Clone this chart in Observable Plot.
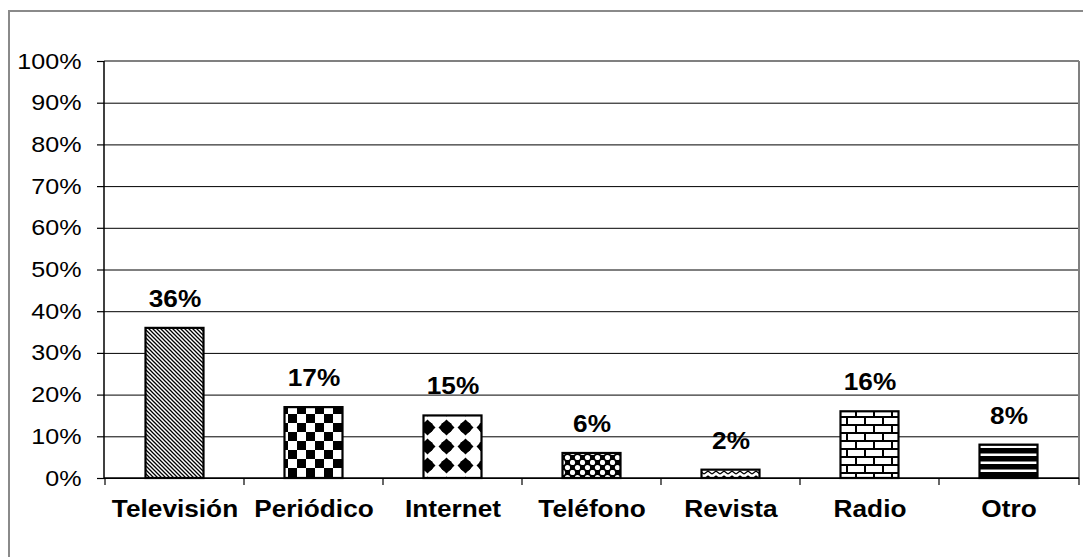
<!DOCTYPE html>
<html><head><meta charset="utf-8">
<script src="https://cdn.jsdelivr.net/npm/d3@7"></script>
<script src="https://cdn.jsdelivr.net/npm/@observablehq/plot@0.6"></script>
<style>
body{margin:0;background:#fff;}
#wrap{position:relative;width:1083px;height:557px;overflow:hidden;background:#fff;}
#border{position:absolute;left:8px;top:10px;width:1200px;height:800px;border-left:2px solid #8a8a8a;border-top:2px solid #8a8a8a;}
#chart{position:absolute;left:0;top:0;}
</style></head><body>
<div id="wrap"><div id="border"></div><div id="chart"></div></div>
<script>
const categories = ["Televisión","Periódico","Internet","Teléfono","Revista","Radio","Otro"];
const values = [0.36, 0.17, 0.15, 0.06, 0.02, 0.16, 0.08];
const valueLabels = ["36%","17%","15%","6%","2%","16%","8%"];
const yTicks = [0, 0.1, 0.2, 0.3, 0.4, 0.5, 0.6, 0.7, 0.8, 0.9, 1];
const yTickLabels = ["0%","10%","20%","30%","40%","50%","60%","70%","80%","90%","100%"];
const patterns = ["diag","checker","diamond","circles","zigzag","brick","stripes"];

const data = categories.map((c, i) => ({category: c, value: values[i], label: valueLabels[i], pattern: `url(#pat-${patterns[i]})`}));

const STRETCH = 1.14;
const plot = Plot.plot({
  width: 1083, height: 557,
  marginLeft: 104, marginRight: 4, marginTop: 61, marginBottom: 79,
  style: {fontFamily: "'Liberation Sans', Arial, sans-serif", background: "transparent", color: "#000"},
  x: {domain: categories, padding: 0, label: null},
  y: {domain: [0, 1], label: null},
  color: {type: "identity"},
  marks: [
    Plot.gridY(yTicks, {stroke: "#000", strokeOpacity: 1, strokeWidth: 1}),
    Plot.barY(data, {x: "category", y: "value", fill: "pattern", stroke: "#000", strokeWidth: 2.2, insetLeft: 40.5, insetRight: 40.5}),
    Plot.text(data, {x: "category", y: "value", text: "label", dy: -29, fontWeight: "bold", fontSize: 23, fill: "#000"}),
    Plot.axisY(yTicks, {tickFormat: d => yTickLabels[yTicks.indexOf(d)], tickSize: 7, tickPadding: 16, fontSize: 22, stroke: "#000", strokeWidth: 1.2}),
    Plot.axisX({tickSize: 0, tickPadding: 22, fontSize: 23, fontWeight: "bold"})
  ]
});
document.getElementById("chart").appendChild(plot);

const svg = d3.select(plot);
const defs = svg.insert("defs", ":first-child");
function pat(id, w, h) {
  return defs.append("pattern").attr("id", "pat-" + id).attr("width", w).attr("height", h).attr("patternUnits", "userSpaceOnUse");
}
// diagonal lines
{ const p = pat("diag", 4, 4); p.append("rect").attr("width", 4).attr("height", 4).attr("fill", "#fff");
  p.append("path").attr("d", "M-1,-1L5,5M-1,3L1,5M3,-1L5,1").attr("stroke", "#000").attr("stroke-width", 1.3); }
// checkerboard
{ const p = pat("checker", 18, 18); p.append("rect").attr("width", 18).attr("height", 18).attr("fill", "#fff");
  p.append("rect").attr("width", 9).attr("height", 9).attr("fill", "#000");
  p.append("rect").attr("x", 9).attr("y", 9).attr("width", 9).attr("height", 9).attr("fill", "#000"); }
// diamonds
{ const p = pat("diamond", 19, 19); p.append("rect").attr("width", 19).attr("height", 19).attr("fill", "#fff");
  p.append("path").attr("d", "M9.5,1.5L17.5,9.5L9.5,17.5L1.5,9.5Z").attr("fill", "#000");
  p.append("circle").attr("cx", 9.5).attr("cy", 9.5).attr("r", 6).attr("fill", "#000"); }
// circles
{ const p = pat("circles", 10, 10); p.append("rect").attr("width", 10).attr("height", 10).attr("fill", "#000");
  p.append("circle").attr("cx", 2.5).attr("cy", 2.5).attr("r", 2.6).attr("fill", "#fff");
  p.append("circle").attr("cx", 7.5).attr("cy", 7.5).attr("r", 2.6).attr("fill", "#fff"); }
// zigzag
{ const p = pat("zigzag", 8, 5); p.append("rect").attr("width", 8).attr("height", 5).attr("fill", "#fff");
  p.append("path").attr("d", "M0,4L4,1L8,4").attr("stroke", "#000").attr("stroke-width", 1.4).attr("fill", "none"); }
// bricks
{ const p = pat("brick", 18, 16); p.append("rect").attr("width", 18).attr("height", 16).attr("fill", "#fff");
  p.append("rect").attr("width", 18).attr("height", 2).attr("fill", "#000");
  p.append("rect").attr("y", 8).attr("width", 18).attr("height", 2).attr("fill", "#000");
  p.append("rect").attr("width", 2).attr("height", 8).attr("fill", "#000");
  p.append("rect").attr("x", 9).attr("y", 8).attr("width", 2).attr("height", 8).attr("fill", "#000"); }
// horizontal stripes
{ const p = pat("stripes", 8, 8); p.append("rect").attr("width", 8).attr("height", 8).attr("fill", "#fff");
  p.append("rect").attr("width", 8).attr("height", 5.5).attr("fill", "#000"); }

// axes lines, frame and category-boundary ticks from the library scales
const xs = plot.scale("x"), ys = plot.scale("y");
const x0 = xs.range[0], x1 = xs.range[1];
const yb = ys.apply(0), yt = ys.apply(1);
const g = svg.append("g");
g.append("line").attr("x1", x0).attr("x2", x1).attr("y1", yt).attr("y2", yt).attr("stroke", "#808080").attr("stroke-width", 2);
g.append("line").attr("x1", x1).attr("x2", x1).attr("y1", yt).attr("y2", yb).attr("stroke", "#808080").attr("stroke-width", 2);
g.append("line").attr("x1", x0).attr("x2", x0).attr("y1", yt).attr("y2", yb).attr("stroke", "#000").attr("stroke-width", 1.5);
g.append("line").attr("x1", x0).attr("x2", x1).attr("y1", yb).attr("y2", yb).attr("stroke", "#000").attr("stroke-width", 1.5);
categories.forEach(c => {
  const bx = xs.apply(c);
  g.append("line").attr("x1", bx).attr("x2", bx).attr("y1", yb).attr("y2", yb + 7).attr("stroke", "#000").attr("stroke-width", 1.2);
});
g.append("line").attr("x1", x1).attr("x2", x1).attr("y1", yb).attr("y2", yb + 7).attr("stroke", "#000").attr("stroke-width", 1.2);

// horizontally widened lettering, as in the reference
svg.selectAll("text").each(function() {
  const L = this.getComputedTextLength();
  if (L > 0) { this.setAttribute("textLength", L * STRETCH); this.setAttribute("lengthAdjust", "spacingAndGlyphs"); }
});
</script>
</body></html>
